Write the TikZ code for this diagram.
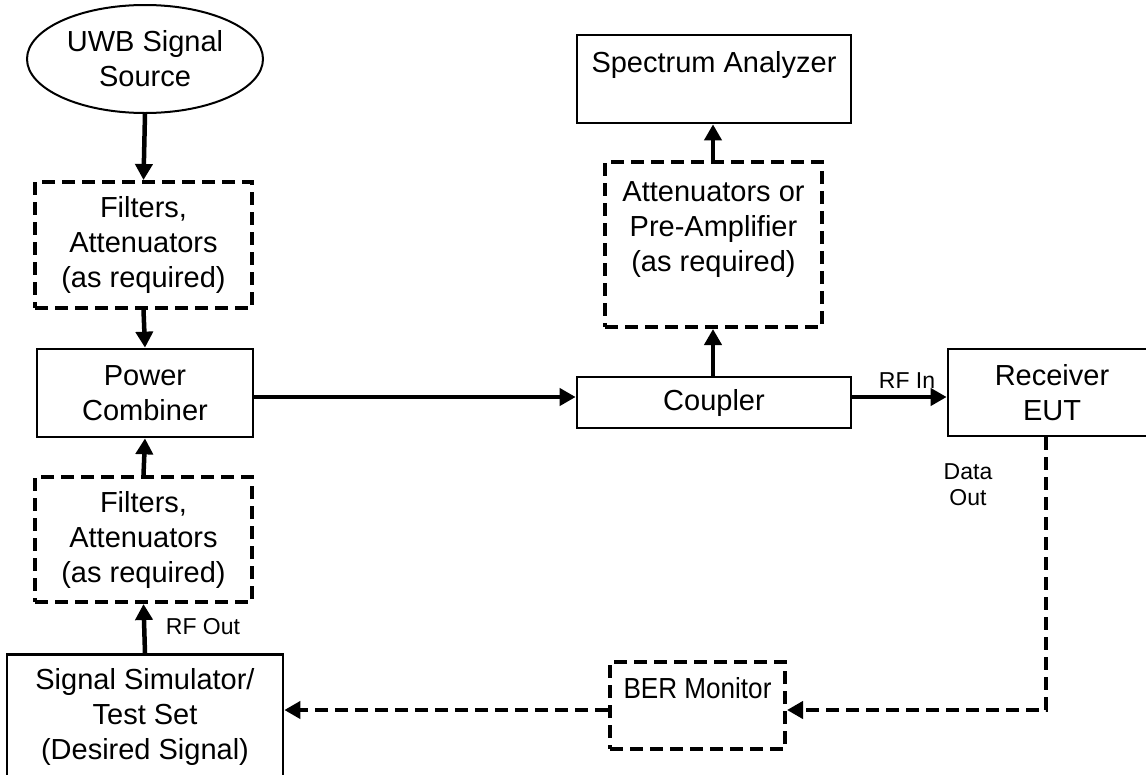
\documentclass[tikz,border=0pt]{standalone}
\usepackage{fontspec}
\usepackage{graphicx}
\setmainfont{Liberation Sans}
\usetikzlibrary{shapes.geometric,arrows.meta}
\tikzset{
  big/.style={font=\fontsize{29}{35}\selectfont, align=center},
  small/.style={font=\fontsize{23}{26}\selectfont, align=center, inner sep=0pt},
  solidbox/.style={draw, line width=2.7pt, big, inner sep=0pt},
  dashbox/.style={draw, line width=4pt, dash pattern=on 13pt off 7pt, big, inner sep=0pt},
  arr/.style={line width=4.5pt, -{Triangle[length=16pt,width=17pt]}},
  darr/.style={line width=4.5pt, dash pattern=on 13pt off 7pt, -{Triangle[length=16pt,width=17pt]}},
}
\begin{document}
\begin{tikzpicture}[x=1pt,y=-1pt]
\useasboundingbox (0,0) rectangle (1146,774);
\fill[white] (0,0) rectangle (1146,774);
% nodes
\node[ellipse, draw, line width=2pt, big, minimum width=236pt, minimum height=108pt, inner sep=0pt] (src) at (145,59) {UWB Signal\\Source};
\node[dashbox, minimum width=217pt, minimum height=126pt] (f1) at (143.5,245) {Filters,\\Attenuators\\(as required)};
\node[solidbox, minimum width=216pt, minimum height=88pt] (pc) at (145,393) {Power\\Combiner};
\node[dashbox, minimum width=217pt, minimum height=125pt] (f2) at (143.5,539.5) {Filters,\\Attenuators\\(as required)};
\node[solidbox, minimum width=276pt, minimum height=155pt, anchor=north] (ss) at (145,653) {Signal Simulator/\\Test Set\\(Desired Signal)\\\mbox{}};
\node[solidbox, minimum width=274pt, minimum height=88pt] (sa) at (714,79) {Spectrum Analyzer\\\mbox{}};
\node[dashbox, minimum width=217pt, minimum height=165pt] (at) at (713.5,244.5) {Attenuators or\\Pre-Amplifier\\(as required)\\\mbox{}};
\node[solidbox, minimum width=274pt, minimum height=51pt] (cp) at (714,402.5) {Coupler};
\node[solidbox, minimum width=208pt, minimum height=87pt] (rx) at (1052,392.5) {Receiver\\EUT};
\node[dashbox, minimum width=175pt, minimum height=87pt] (ber) at (697.5,705.5) {\scalebox{0.9}[1]{BER Monitor}\\\mbox{}};
% labels
\node[small] (rfin) at (907,381) {RF In};
\node[small] (rfout) at (203,627) {RF Out};
\node[small] (dout) at (968,485) {Data\\Out};
% connectors
\draw[arr] (src.south) -- (f1.north);
\draw[arr] (f1.south) -- (pc.north);
\draw[arr] (ss.north) -- (f2.south);
\draw[arr] (f2.north) -- (pc.south);
\draw[arr] ([yshift=-4pt]pc.east) -- ([yshift=-4pt]pc.east -| cp.west);
\draw[arr] ([yshift=5.5pt]cp.east) -- ([yshift=5.5pt]cp.east -| rx.west);
\draw[arr] ([xshift=-1pt]cp.north) -- ([xshift=-1pt]cp.north |- at.south);
\draw[arr] ([xshift=-0.5pt]at.north) -- ([xshift=-0.5pt]at.north |- sa.south);
\draw[darr] ([xshift=-6pt]rx.south) |- ([yshift=-4.5pt]ber.east);
\draw[darr] ([yshift=-4.5pt]ber.west) -- ([yshift=-4.5pt]ber.west -| ss.east);
\end{tikzpicture}
\end{document}
